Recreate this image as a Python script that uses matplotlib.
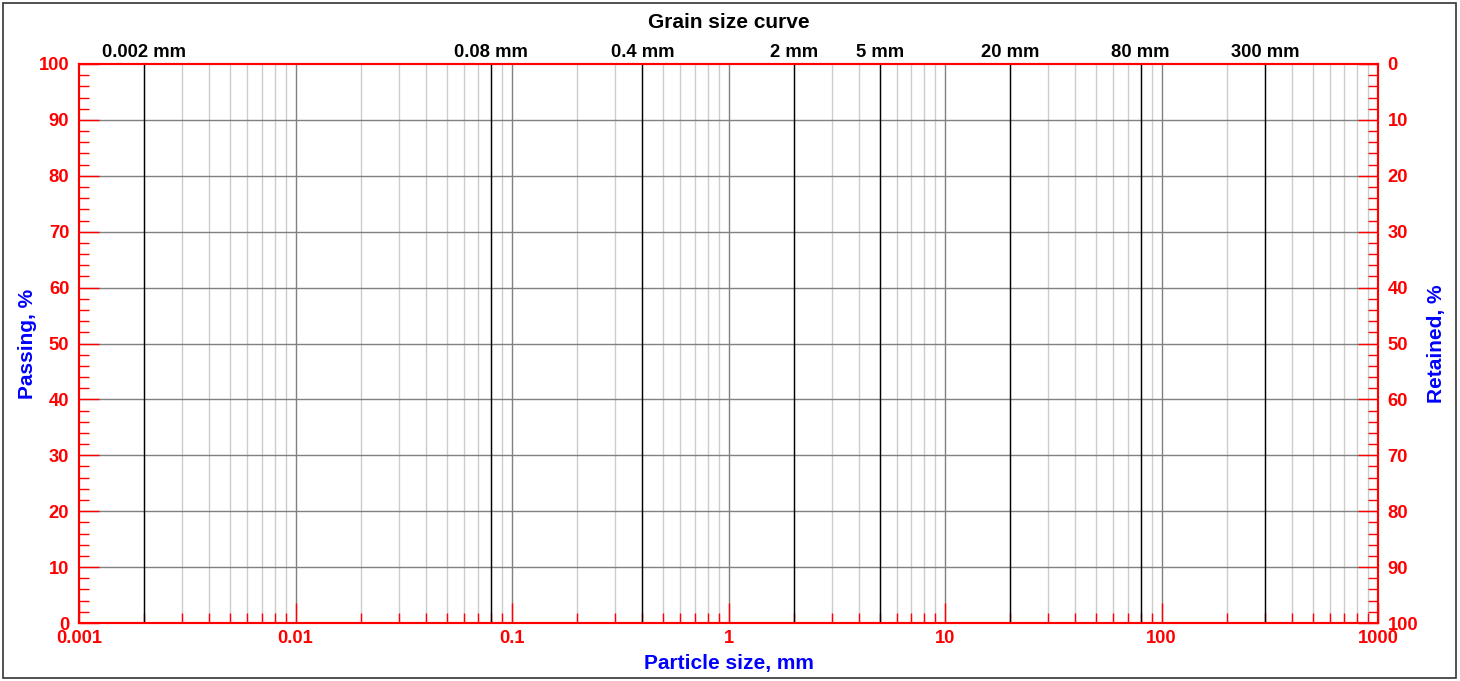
import matplotlib
matplotlib.use('Agg')
import matplotlib.pyplot as plt
from matplotlib.patches import Rectangle
import numpy as np

plt.rcParams['font.family'] = ['Liberation Sans', 'DejaVu Sans']

TITLE = 'Grain size curve'
X_MIN, X_MAX = 0.001, 1000
DECADES = [0.001, 0.01, 0.1, 1, 10, 100, 1000]
DECADE_LABELS = ['0.001', '0.01', '0.1', '1', '10', '100', '1000']
SIEVES = [0.002, 0.08, 0.4, 2, 5, 20, 80, 300]
SIEVE_LABELS = ['0.002 mm', '0.08 mm', '0.4 mm', '2 mm', '5 mm', '20 mm', '80 mm', '300 mm']
Y_MAJOR = [0, 10, 20, 30, 40, 50, 60, 70, 80, 90, 100]
Y_MINOR = [v for v in range(0, 101, 2) if v % 10]

RED = '#ff0000'
BLUE = '#0000ff'
PX = 72 / 100  # points per pixel at dpi 100

fig = plt.figure(figsize=(14.6, 6.81), dpi=100)
fig.patches.append(Rectangle((0.002, 0.004), 0.995, 0.992, transform=fig.transFigure,
                             fill=False, edgecolor='#333333', linewidth=1.2))
ax = fig.add_axes([79 / 1460, 1 - 623 / 681, (1378 - 79) / 1460, (623 - 64) / 681])
ax.set_xscale('log')
ax.set_xlim(X_MIN, X_MAX)
ax.set_ylim(0, 100)

# minor x positions (2..9 of each decade)
minor_x = [d * k for d in DECADES[:-1] for k in range(2, 10)]
for x in minor_x:
    ax.axvline(x, color='#cccccc', lw=1, zorder=1)
for x in DECADES[1:-1]:
    ax.axvline(x, color='#808080', lw=1, zorder=1)
for y in Y_MAJOR[1:-1]:
    ax.axhline(y, color='#808080', lw=1, zorder=1)
for x in SIEVES:
    ax.axvline(x, color='black', lw=1, zorder=2)

# sieve labels on top
for x, lab in zip(SIEVES, SIEVE_LABELS):
    ax.text(x, 100.5, lab, ha='center', va='bottom', fontsize=13.2,
            fontweight='bold', color='black')

ax.set_title(TITLE, fontsize=15, fontweight='bold', pad=26)

# x ticks
ax.set_xticks(DECADES)
ax.set_xticklabels(DECADE_LABELS)
ax.set_xticks(minor_x, minor=True)
ax.xaxis.set_minor_formatter(matplotlib.ticker.NullFormatter())
ax.tick_params(axis='x', which='major', direction='in', length=20 * PX, width=1,
               colors=RED, labelsize=13.2, pad=5, top=False)
ax.tick_params(axis='x', which='minor', direction='in', length=10 * PX, width=1,
               colors=RED, top=False)
for t in ax.get_xticklabels():
    t.set_fontweight('bold')

# y ticks left
ax.set_yticks(Y_MAJOR)
ax.set_yticks(Y_MINOR, minor=True)
ax.tick_params(axis='y', which='major', direction='in', length=20 * PX, width=1,
               colors=RED, labelsize=13.2, pad=7)
ax.tick_params(axis='y', which='minor', direction='in', length=10 * PX, width=1, colors=RED)
for t in ax.get_yticklabels():
    t.set_fontweight('bold')
ax.set_ylabel('Passing, %', color=BLUE, fontsize=15, fontweight='bold', labelpad=1)
ax.set_xlabel('Particle size, mm', color=BLUE, fontsize=15, fontweight='bold', labelpad=5)

# right axis (retained)
ax2 = ax.twinx()
ax2.set_ylim(100, 0)
ax2.set_yticks(Y_MAJOR)
ax2.set_yticks(Y_MINOR, minor=True)
ax2.tick_params(axis='y', which='major', direction='in', length=20 * PX, width=1,
                colors=RED, labelsize=13.2, pad=7)
ax2.tick_params(axis='y', which='minor', direction='in', length=10 * PX, width=1, colors=RED)
for t in ax2.get_yticklabels():
    t.set_fontweight('bold')
ax2.set_ylabel('Retained, %', color=BLUE, fontsize=15, fontweight='bold', labelpad=6)

for a in (ax, ax2):
    for s in a.spines.values():
        s.set_color(RED)
        s.set_linewidth(1.5)

fig.savefig('out.png', dpi=100)
